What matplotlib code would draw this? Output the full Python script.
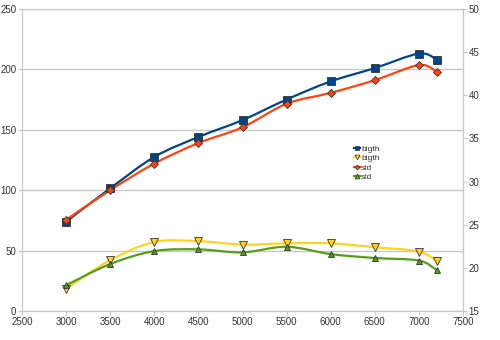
import numpy as np
import matplotlib
matplotlib.use("Agg")
import matplotlib.pyplot as plt
from matplotlib.path import Path
from matplotlib.patches import PathPatch
from matplotlib.lines import Line2D

plt.rcParams['font.family'] = 'Liberation Sans'
plt.rcParams['font.size'] = 7

# rpm
rpm = [3000, 3500, 4000, 4500, 5000, 5500, 6000, 6500, 7000, 7200]

# left axis series
power_bigth = [74, 101.5, 127.5, 144, 158, 175, 190, 201, 213, 208]
power_std = [75.5, 100, 122, 139, 152, 171.5, 180.5, 191, 203.5, 198]

# right axis series
torque_bigth = [17.6, 20.9, 23.0, 23.1, 22.7, 22.85, 22.85, 22.4, 21.9, 20.8]
torque_std = [18.0, 20.45, 21.95, 22.15, 21.8, 22.45, 21.6, 21.15, 20.85, 19.75]

blue = '#004586'
orange = '#ff420e'
yellow = '#ffd320'
green = '#579d1c'
grid_col = '#c8c8c8'
txt_col = '#333333'


def smooth_path(x, y):
    # cubic bezier segments (catmull-rom tangents) through the data points
    x = np.asarray(x, float)
    y = np.asarray(y, float)
    n = len(x)
    verts = [(x[0], y[0])]
    codes = [Path.MOVETO]
    for i in range(n - 1):
        i0 = max(i - 1, 0)
        i3 = min(i + 2, n - 1)
        c1 = (x[i] + (x[i + 1] - x[i0]) / 6, y[i] + (y[i + 1] - y[i0]) / 6)
        c2 = (x[i + 1] - (x[i3] - x[i]) / 6, y[i + 1] - (y[i3] - y[i]) / 6)
        verts += [c1, c2, (x[i + 1], y[i + 1])]
        codes += [Path.CURVE4] * 3
    return Path(verts, codes)


def draw_series(ax, x, y, color, marker, ms):
    ax.add_patch(PathPatch(smooth_path(x, y), fill=False, edgecolor=color,
                           lw=1.6, zorder=3))
    ax.plot(x, y, ls='none', marker=marker, ms=ms, mfc=color, mec='#333333',
            mew=0.6, zorder=4)


fig = plt.figure(figsize=(5, 3.4), dpi=100)
ax = fig.add_axes([0.044, 0.085, 0.882, 0.889])
ax2 = ax.twinx()

draw_series(ax, rpm, power_bigth, blue, 's', 5.5)
draw_series(ax, rpm, power_std, orange, 'D', 4)
draw_series(ax2, rpm, torque_bigth, yellow, 'v', 5.5)
draw_series(ax2, rpm, torque_std, green, '^', 5)

ax.set_xlim(2500, 7500)
ax.set_ylim(0, 250)
ax.set_xticks(range(2500, 7501, 500))
ax.set_yticks(range(0, 251, 50))
ax2.set_ylim(15, 50)
ax2.set_yticks(range(15, 51, 5))

ax.grid(axis='y', color=grid_col, lw=1)
ax.set_axisbelow(True)
for a in (ax, ax2):
    for s in a.spines.values():
        s.set_color(grid_col)
    a.tick_params(colors=grid_col, labelcolor=txt_col, length=3, width=0.8,
                  labelsize=7, pad=1)

handles = [
    Line2D([], [], color=blue, lw=1.6, marker='s', ms=3.5, mfc=blue, mec='#333333', mew=0.5),
    Line2D([], [], color=yellow, lw=1.6, marker='v', ms=3.5, mfc=yellow, mec='#333333', mew=0.5),
    Line2D([], [], color=orange, lw=1.6, marker='D', ms=2.5, mfc=orange, mec='#333333', mew=0.5),
    Line2D([], [], color=green, lw=1.6, marker='^', ms=3.5, mfc=green, mec='#333333', mew=0.5),
]
ax2.legend(handles, ['bigth', 'bigth', 'std', 'std'], loc='upper left',
           bbox_to_anchor=(0.735, 0.575), frameon=False, fontsize=6,
           handlelength=0.8, handletextpad=0.1, labelspacing=0.2,
           labelcolor=txt_col)

fig.savefig('out.png', dpi=100)
